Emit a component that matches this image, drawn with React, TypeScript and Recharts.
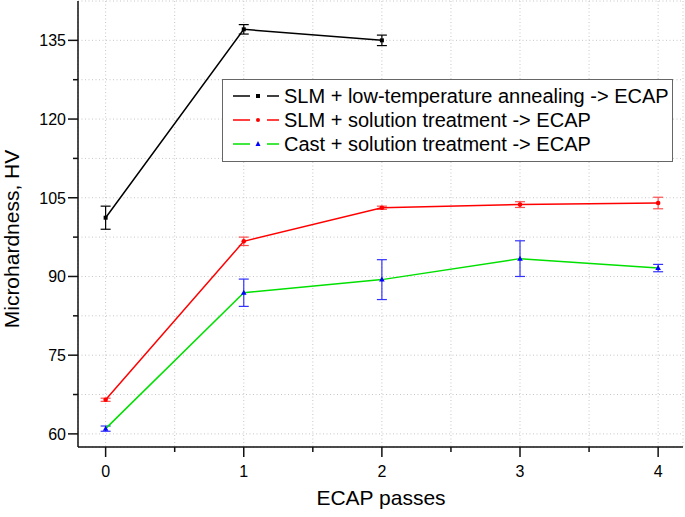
import React from 'react';
import { LineChart, Line, XAxis, YAxis, CartesianGrid, ErrorBar, Legend } from 'recharts';

const passes = [0, 1, 2, 3, 4];
const slmLowTemp = [101.2, 137.1, 135.0, null, null];
const slmLowTempErr = [2.2, 0.9, 1.0, null, null];
const slmSolution = [66.5, 96.7, 103.1, 103.7, 104.0];
const slmSolutionErr = [0.3, 0.8, 0.3, 0.55, 1.1];
const castSolution = [61.0, 86.9, 89.4, 93.4, 91.6];
const castSolutionErr = [0.5, 2.6, 3.8, 3.4, 0.7];

const xTicks = [0, 0.5, 1, 1.5, 2, 2.5, 3, 3.5, 4];
const yTicks = [60, 67.5, 75, 82.5, 90, 97.5, 105, 112.5, 120, 127.5, 135];
const xDomain = [-0.2, 4.18];
const yDomain = [57.5, 142.5];

const seriesNames = [
  'SLM + low-temperature annealing -> ECAP',
  'SLM + solution treatment -> ECAP',
  'Cast + solution treatment -> ECAP',
];

const data = passes.map((p, i) => ({
  pass: p,
  lowTemp: slmLowTemp[i],
  lowTempErr: slmLowTempErr[i],
  slmSol: slmSolution[i],
  slmSolErr: slmSolutionErr[i],
  cast: castSolution[i],
  castErr: castSolutionErr[i],
}));

const FONT = '"Liberation Sans", Arial, sans-serif';
const AXIS = '#111';

const isMajorX = (v: number) => Math.abs(v - Math.round(v)) < 1e-6;
const isMajorY = (v: number) => Math.abs(v / 15 - Math.round(v / 15)) < 1e-6;

const LeftTick = (props: any) => {
  const { x, y, payload } = props;
  const major = isMajorY(payload.value);
  return (
    <g>
      <line x1={x} x2={x - (major ? 10 : 5)} y1={y} y2={y} stroke={AXIS} strokeWidth={1.5} />
      {major && (
        <text x={x - 12} y={y} dy="0.36em" textAnchor="end" fontSize={16} fontFamily={FONT} fill="#000">
          {payload.value}
        </text>
      )}
    </g>
  );
};

const RightTick = (props: any) => {
  const { x, y, payload } = props;
  const major = isMajorY(payload.value);
  return <line x1={x} x2={x - (major ? 8 : 4)} y1={y} y2={y} stroke={AXIS} strokeWidth={1.5} />;
};

const BottomTick = (props: any) => {
  const { x, y, payload } = props;
  const major = isMajorX(payload.value);
  return (
    <g>
      <line x1={x} x2={x} y1={y} y2={y + (major ? 10 : 5)} stroke={AXIS} strokeWidth={1.5} />
      {major && (
        <text x={x} y={y + 30} textAnchor="middle" fontSize={16} fontFamily={FONT} fill="#000">
          {payload.value}
        </text>
      )}
    </g>
  );
};

const TopTick = (props: any) => {
  const { x, y, payload } = props;
  const major = isMajorX(payload.value);
  return <line x1={x} x2={x} y1={y} y2={y + (major ? 9 : 5)} stroke={AXIS} strokeWidth={1.5} />;
};

const SquareDot = (props: any) => {
  const { cx, cy } = props;
  if (cx == null || cy == null) return null;
  return <rect x={cx - 2} y={cy - 2} width={4} height={4} fill="#000" />;
};
const CircleDot = (props: any) => {
  const { cx, cy } = props;
  if (cx == null || cy == null) return null;
  return <circle cx={cx} cy={cy} r={2.3} fill="#ff0000" />;
};
const TriangleDot = (props: any) => {
  const { cx, cy } = props;
  if (cx == null || cy == null) return null;
  return <polygon points={`${cx},${cy - 3} ${cx - 2.8},${cy + 2} ${cx + 2.8},${cy + 2}`} fill="#0000ff" />;
};

const legendItems = [
  { name: seriesNames[0], line: '#000000', marker: 'square', markerColor: '#000000' },
  { name: seriesNames[1], line: '#ff0000', marker: 'circle', markerColor: '#ff0000' },
  { name: seriesNames[2], line: '#00e000', marker: 'triangle', markerColor: '#0000ff' },
];

const renderLegend = () => (
  <div
    style={{
      position: 'relative',
      boxSizing: 'border-box',
      width: 451,
      height: 83,
      border: '1px solid #666',
      background: '#fff',
      fontFamily: FONT,
      fontSize: 20,
      color: '#000',
    }}
  >
    {legendItems.map((it, i) => (
      <div
        key={it.name}
        style={{ position: 'absolute', left: 0, top: 4 + i * 24, height: 24, lineHeight: '24px', width: '100%', whiteSpace: 'nowrap' }}
      >
        <svg width={46} height={24} style={{ position: 'absolute', left: 10, top: 0 }}>
          <line x1={0} x2={17} y1={12} y2={12} stroke={it.line} strokeWidth={1.5} />
          <line x1={34} x2={46} y1={12} y2={12} stroke={it.line} strokeWidth={1.5} />
          {it.marker === 'square' && <rect x={23} y={10} width={4} height={4} fill={it.markerColor} />}
          {it.marker === 'circle' && <circle cx={25} cy={12} r={2} fill={it.markerColor} />}
          {it.marker === 'triangle' && <polygon points="25,9 22.5,14 27.5,14" fill={it.markerColor} />}
        </svg>
        <span style={{ position: 'absolute', left: 61, top: 0 }}>{it.name}</span>
      </div>
    ))}
  </div>
);

export default function App() {
  return (
    <div style={{ position: 'absolute', left: 0, top: 0, background: '#fff' }}>
      <LineChart width={685} height={517} data={data} margin={{ top: 1, right: 2, bottom: 0, left: 0 }}>
        <CartesianGrid stroke="#c6c6c6" strokeDasharray="1 2.5" strokeWidth={1} />
        <XAxis
          dataKey="pass"
          type="number"
          domain={xDomain}
          ticks={xTicks}
          interval={0}
          height={70}
          tickSize={0}
          tickMargin={0}
          tickLine={false}
          axisLine={{ stroke: AXIS, strokeWidth: 1.5 }}
          tick={<BottomTick />}
          allowDataOverflow
          label={{
            content: () => (
              <text x={381} y={505} textAnchor="middle" fontSize={21} fontFamily={FONT} fill="#000">
                ECAP passes
              </text>
            ),
          }}
        />
        <XAxis
          xAxisId="top"
          orientation="top"
          type="number"
          domain={xDomain}
          ticks={xTicks}
          interval={0}
          height={0}
          tickSize={0}
          tickMargin={0}
          tickLine={false}
          axisLine={{ stroke: AXIS, strokeWidth: 1.5 }}
          tick={<TopTick />}
          allowDataOverflow
        />
        <YAxis
          type="number"
          domain={yDomain}
          ticks={yTicks}
          interval={0}
          width={78}
          tickSize={0}
          tickMargin={0}
          tickLine={false}
          axisLine={{ stroke: AXIS, strokeWidth: 1.5 }}
          tick={<LeftTick />}
          allowDataOverflow
          label={{
            content: () => (
              <text
                x={19}
                y={239}
                transform="rotate(-90 19 239)"
                textAnchor="middle"
                fontSize={21}
                fontFamily={FONT}
                fill="#000"
              >
                Microhardness, HV
              </text>
            ),
          }}
        />
        <YAxis
          yAxisId="right"
          orientation="right"
          type="number"
          domain={yDomain}
          ticks={yTicks}
          interval={0}
          width={0}
          tickSize={0}
          tickMargin={0}
          tickLine={false}
          axisLine={{ stroke: AXIS, strokeWidth: 1.5 }}
          tick={<RightTick />}
          allowDataOverflow
        />
        <Legend
          layout="vertical"
          align="center"
          verticalAlign="middle"
          content={renderLegend}
          wrapperStyle={{ left: 222, top: 79, width: 451, height: 83 }}
        />
        <Line
          dataKey="lowTemp"
          name={seriesNames[0]}
          stroke="#000000"
          strokeWidth={1.5}
          dot={<SquareDot />}
          activeDot={false}
          isAnimationActive={false}
          connectNulls={false}
        >
          <ErrorBar dataKey="lowTempErr" direction="y" width={5} stroke="#000000" strokeWidth={1.2} />
        </Line>
        <Line
          dataKey="slmSol"
          name={seriesNames[1]}
          stroke="#ff0000"
          strokeWidth={1.5}
          dot={<CircleDot />}
          activeDot={false}
          isAnimationActive={false}
        >
          <ErrorBar dataKey="slmSolErr" direction="y" width={5} stroke="#ff4d4d" strokeWidth={1.2} />
        </Line>
        <Line
          dataKey="cast"
          name={seriesNames[2]}
          stroke="#00e000"
          strokeWidth={1.5}
          dot={<TriangleDot />}
          activeDot={false}
          isAnimationActive={false}
        >
          <ErrorBar dataKey="castErr" direction="y" width={5} stroke="#3333ff" strokeWidth={1.2} />
        </Line>
      </LineChart>
    </div>
  );
}
